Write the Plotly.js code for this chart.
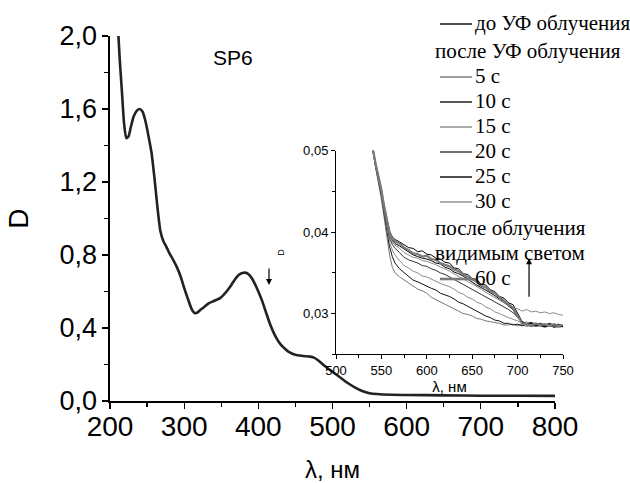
<!DOCTYPE html>
<html>
<head>
<meta charset="utf-8">
<script src="https://cdn.plot.ly/plotly-3.0.1.min.js"></script>
<style>html,body{margin:0;padding:0;background:#fff;}#chart{width:630px;height:483px;}</style>
</head>
<body>
<div id="chart"></div>
<script>
// Main spectrum (wavelength, nm) and optical density
const mainWavelength = [210,213,216,219,222,225,228,232,236,240,244,248,252,256,260,264,268,272,276,280,285,290,295,300,305,310,314,318,322,327,333,340,349,355,360,365,370,375,380,385,390,395,400,405,410,415,420,425,430,435,440,450,460,470,475,480,490,500,510,520,530,540,550,560,580,600,650,700,750,800];
const mainD = [2.10,1.88,1.70,1.52,1.44,1.45,1.50,1.56,1.59,1.60,1.585,1.53,1.45,1.36,1.22,1.06,0.93,0.875,0.845,0.81,0.775,0.735,0.685,0.62,0.56,0.505,0.482,0.485,0.50,0.515,0.535,0.548,0.565,0.59,0.615,0.645,0.675,0.695,0.703,0.70,0.68,0.645,0.60,0.55,0.49,0.43,0.38,0.34,0.31,0.29,0.272,0.253,0.247,0.243,0.238,0.225,0.19,0.16,0.13,0.10,0.075,0.055,0.043,0.038,0.034,0.033,0.031,0.029,0.0285,0.028];

// Inset (long-wavelength detail)
const insetWavelength = [538,541,544,547,550,553,556,559,562,565,570,575,580,585,590,595,600,605,610,615,620,625,630,635,640,645,650,655,660,665,670,675,680,685,690,695,700,705,710,715,720,725,730,735,740,745,750];
const dBefore = [0.0535,0.0500,0.0483,0.0469,0.0453,0.0433,0.0416,0.0401,0.0394,0.0391,
  0.0388,0.0385,0.0381,0.0380,0.0376,0.0377,0.0373,0.0372,0.0368,0.0367,0.0363,0.0362,0.0356,0.0355,0.0349,0.0348,0.0343,0.0342,0.0336,0.0335,0.0329,0.0327,0.0321,0.0319,0.0313,0.0311,0.0301,0.0290,0.0288,0.0289,0.0287,0.0288,0.0286,0.0288,0.0286,0.0287,0.0285];
const d5s = [0.0532,0.0497,0.0477,0.0460,0.0440,0.0418,0.0395,0.0372,0.0357,0.0350,
  0.0345,0.0341,0.0337,0.0333,0.0330,0.0328,0.0325,0.0320,0.0317,0.0315,0.0311,0.0308,0.0305,0.0303,0.0300,0.0299,0.0297,0.0294,0.0293,0.0291,0.0290,0.0289,0.0288,0.0286,0.0286,0.0287,0.0285,0.0287,0.0284,0.0286,0.0284,0.0285,0.0283,0.0285,0.0284,0.0283,0.0284];
const d10s = [0.0532,0.0497,0.0478,0.0462,0.0445,0.0423,0.0402,0.0382,0.0370,0.0362,
  0.0355,0.0350,0.0346,0.0341,0.0339,0.0336,0.0334,0.0331,0.0329,0.0325,0.0323,0.0321,0.0318,0.0314,0.0312,0.0309,0.0306,0.0302,0.0300,0.0297,0.0295,0.0292,0.0291,0.0288,0.0288,0.0286,0.0287,0.0285,0.0287,0.0284,0.0286,0.0285,0.0284,0.0286,0.0283,0.0285,0.0284];
const d15s = [0.0533,0.0498,0.0479,0.0464,0.0447,0.0426,0.0406,0.0388,0.0378,0.0372,
  0.0365,0.0359,0.0356,0.0352,0.0350,0.0346,0.0345,0.0342,0.0340,0.0337,0.0335,0.0333,0.0330,0.0326,0.0324,0.0320,0.0318,0.0314,0.0312,0.0308,0.0306,0.0302,0.0300,0.0297,0.0295,0.0293,0.0291,0.0288,0.0290,0.0286,0.0288,0.0285,0.0287,0.0286,0.0284,0.0286,0.0285];
const d20s = [0.0533,0.0498,0.0480,0.0465,0.0449,0.0428,0.0410,0.0393,0.0385,0.0380,
  0.0375,0.0369,0.0366,0.0364,0.0362,0.0359,0.0358,0.0355,0.0353,0.0350,0.0348,0.0345,0.0342,0.0339,0.0336,0.0333,0.0330,0.0327,0.0324,0.0321,0.0318,0.0314,0.0311,0.0308,0.0305,0.0301,0.0296,0.0289,0.0287,0.0289,0.0286,0.0288,0.0285,0.0287,0.0285,0.0286,0.0284];
const d25s = [0.0534,0.0499,0.0481,0.0467,0.0451,0.0431,0.0414,0.0398,0.0390,0.0386,
  0.0383,0.0379,0.0375,0.0372,0.0370,0.0368,0.0367,0.0365,0.0362,0.0361,0.0357,0.0355,0.0351,0.0349,0.0346,0.0342,0.0339,0.0335,0.0332,0.0329,0.0325,0.0322,0.0318,0.0314,0.0310,0.0305,0.0295,0.0291,0.0286,0.0288,0.0285,0.0287,0.0284,0.0286,0.0285,0.0286,0.0284];
const d30s = [0.0534,0.0499,0.0481,0.0466,0.0450,0.0430,0.0412,0.0396,0.0388,0.0384,
  0.0380,0.0375,0.0372,0.0369,0.0368,0.0365,0.0364,0.0362,0.0360,0.0357,0.0355,0.0352,0.0349,0.0346,0.0343,0.0340,0.0337,0.0333,0.0330,0.0326,0.0323,0.0320,0.0316,0.0313,0.0310,0.0307,0.0306,0.0303,0.0305,0.0302,0.0303,0.0301,0.0302,0.0300,0.0301,0.0299,0.0298];
const d60sVisible = [0.0535,0.0500,0.0482,0.0468,0.0452,0.0432,0.0415,0.0400,0.0393,0.0389,
  0.0386,0.0381,0.0378,0.0374,0.0373,0.0370,0.0371,0.0367,0.0366,0.0362,0.0360,0.0358,0.0354,0.0352,0.0348,0.0345,0.0341,0.0339,0.0334,0.0332,0.0327,0.0325,0.0320,0.0316,0.0311,0.0307,0.0297,0.0288,0.0287,0.0285,0.0288,0.0286,0.0287,0.0285,0.0287,0.0285,0.0286];

const seriesNames = ["до УФ облучения","5 с","10 с","15 с","20 с","25 с","30 с","60 с"];
const seriesData = [dBefore,d5s,d10s,d15s,d20s,d25s,d30s,d60sVisible];
const seriesColors = ["#000000","#777777","#111111","#8a8a8a","#333333","#000000","#8a8a8a","#7a7a7a"];
const seriesWidths = [1,1,1,1,1,1,1,2.2];
// legend headers (placed before these series indices)
const legendHeaders = {1:["после УФ облучения"], 7:["после облучения","видимым светом"]};

const W = 630, H = 483, L = 110, R = 50, T = 36, B = 82;
const pw = W - L - R, ph = H - T - B;
const px2fx = p => (p - L) / pw;
const py2fy = p => (H - B - p) / ph;

const traces = [{
  x: mainWavelength, y: mainD, xaxis:'x', yaxis:'y', type:'scatter', mode:'lines', name:'SP6',
  line:{color:'#222', width:2.6, shape:'spline', smoothing:0.6}, showlegend:false, hoverinfo:'skip'
}];
seriesData.forEach((d,i)=>{
  traces.push({
    x: insetWavelength, y: d, xaxis:'x2', yaxis:'y2', type:'scatter', mode:'lines',
    name: seriesNames[i], line:{color:seriesColors[i], width:seriesWidths[i]}, showlegend:false
  });
});

// hand-built legend (text + line samples)
const legendFont = {family:'Liberation Serif', size:21, color:'#000'};
const annotations = [];
const shapes = [];
let rowY = 23;
seriesNames.forEach((nm,i)=>{
  if (legendHeaders[i]) {
    rowY += (i === 1 ? 28 : 27);
    legendHeaders[i].forEach((h,k)=>{
      if (k > 0) rowY += 25;
      annotations.push({xref:'paper', yref:'paper', x:px2fx(433), y:py2fy(rowY), text:h, showarrow:false,
        xanchor:'left', yanchor:'middle', font:legendFont});
    });
    rowY += 25;
  } else if (i > 0) {
    rowY += 25;
  }
  shapes.push({type:'line', xref:'paper', yref:'paper', x0:px2fx(440), x1:px2fx(472), y0:py2fy(rowY+1), y1:py2fy(rowY+1),
    line:{color:seriesColors[i], width: i === 0 ? 1.4 : Math.max(1.2, seriesWidths[i]+0.4)}});
  annotations.push({xref:'paper', yref:'paper', x:px2fx(473), y:py2fy(rowY), text:nm, showarrow:false,
    xanchor:'left', yanchor:'middle', font:legendFont});
});

annotations.push(
  {xref:'paper', yref:'paper', x:px2fx(233), y:py2fy(57), text:'SP6', showarrow:false, font:{size:21}, xanchor:'center', yanchor:'middle'},
  {xref:'x', yref:'y', x:414.4, y:0.636, text:'', showarrow:true, arrowhead:2, arrowsize:1, arrowwidth:1.2, arrowcolor:'#000', ax:0, ay:-18, standoff:0},
  {xref:'x2', yref:'y2', x:712.6, y:0.0368, text:'', showarrow:true, arrowhead:2, arrowsize:1, arrowwidth:1.2, arrowcolor:'#000', ax:0, ay:40, standoff:0}
);

const axisCommon = {showline:true, linecolor:'#000', ticks:'outside', tickcolor:'#000', showgrid:false, zeroline:false, mirror:false};

const layout = {
  width: W, height: H,
  margin: {l:L, r:R, t:T, b:B, pad:0},
  paper_bgcolor:'#fff', plot_bgcolor:'rgba(0,0,0,0)',
  separators: ', ',
  showlegend:false,
  font: {family:'Liberation Sans, Arial, sans-serif', color:'#000'},
  xaxis: Object.assign({}, axisCommon, {
    domain:[0, px2fx(555)], range:[200,800], dtick:100, tick0:0, linewidth:1.6, ticklen:6, tickwidth:1.2,
    minor:{ticks:'outside', ticklen:4, dtick:50, tickcolor:'#000', tickwidth:1.2},
    tickfont:{size:28}, ticklabelstandoff:-6, title:{text:'λ, нм', font:{size:24}, standoff:36}, anchor:'y'
  }),
  yaxis: Object.assign({}, axisCommon, {
    domain:[0,1], range:[0,2.0], dtick:0.4, tick0:0, tickformat:'.1f', linewidth:1.6, ticklen:6, tickwidth:1.2,
    minor:{ticks:'outside', ticklen:4, dtick:0.2, tickcolor:'#000', tickwidth:1.2},
    tickfont:{size:27}, title:{text:'D', font:{size:28}, standoff:22}, anchor:'x'
  }),
  xaxis2: Object.assign({}, axisCommon, {
    domain:[px2fx(336), px2fx(563)], range:[500,750], dtick:50, tick0:0, linewidth:1, ticklen:4, tickwidth:1,
    minor:{ticks:'outside', ticklen:3, dtick:25, tickcolor:'#000', tickwidth:1},
    tickfont:{size:13}, title:{text:'λ, нм', font:{size:15}, standoff:4}, anchor:'y2'
  }),
  yaxis2: Object.assign({}, axisCommon, {
    domain:[py2fy(354.3), py2fy(150.7)], range:[0.025,0.05], dtick:0.01, tick0:0, tickformat:'.2f', linewidth:1, ticklen:4, tickwidth:1,
    minor:{ticks:'outside', ticklen:3, dtick:0.005, tickcolor:'#000', tickwidth:1},
    tickfont:{size:13}, title:{text:'D', font:{size:9}, standoff:16}, anchor:'x2'
  }),
  shapes: shapes,
  annotations: annotations
};

Plotly.newPlot('chart', traces, layout, {staticPlot:true, displayModeBar:false});
</script>
</body>
</html>
